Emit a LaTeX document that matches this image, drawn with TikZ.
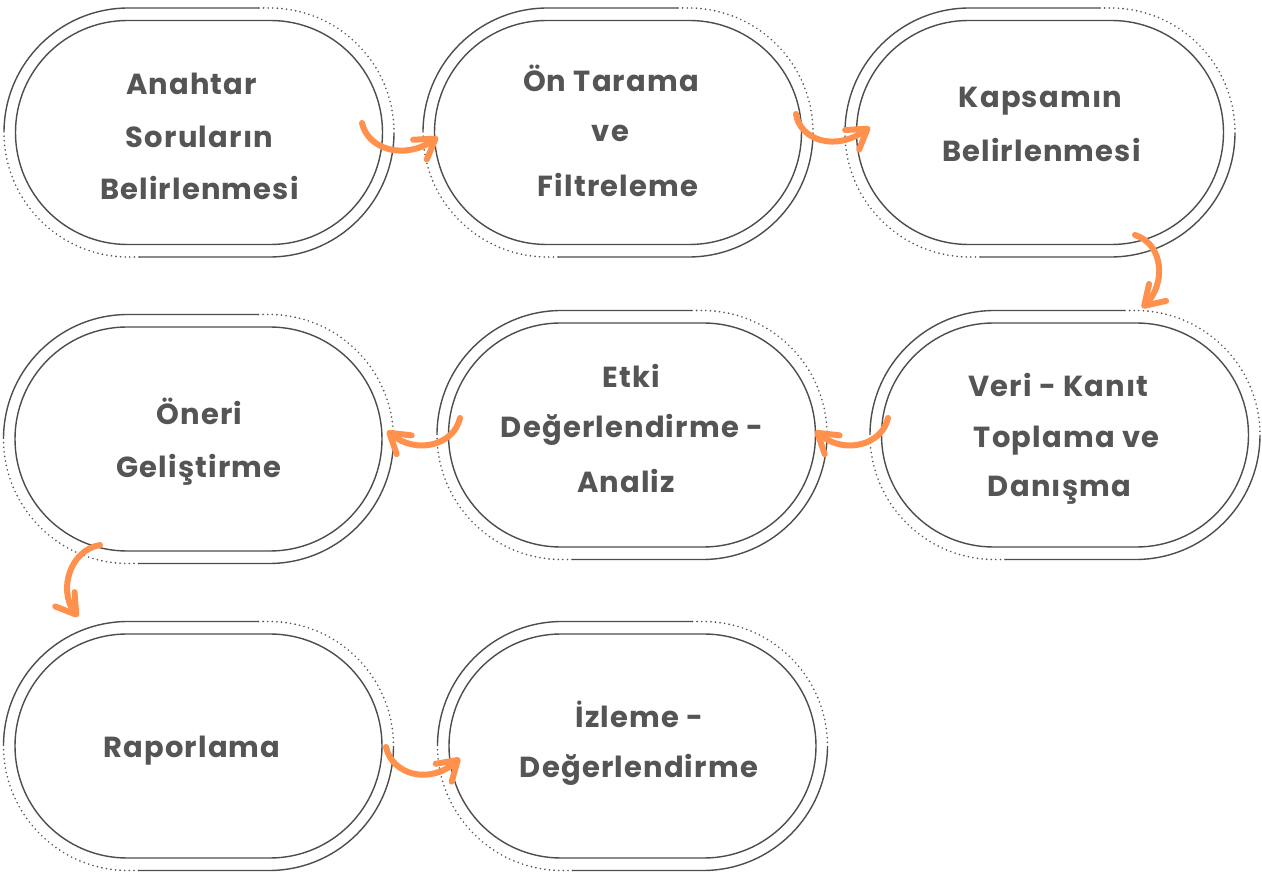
\documentclass[tikz,border=0pt]{standalone}
\usepackage{fontspec}
\newfontfamily\handfont{Poppins}[LetterSpace=4]
\usetikzlibrary{shapes.misc,arrows.meta}
\definecolor{linegray}{HTML}{4D4D4D}
\definecolor{dotgray}{HTML}{555555}
\definecolor{txtgray}{HTML}{555555}
\definecolor{arrorange}{HTML}{FF914D}
\tikzset{
 stadium/.style={draw=linegray, line width=1.4pt, rounded rectangle, minimum width=367pt, minimum height=224pt, inner sep=0pt},
 ring/.style={draw=linegray, line width=1.4pt},
 ringdot/.style={draw=dotgray, line width=1.8pt, line cap=round, dash pattern=on 0pt off 4.6pt},
 lbl/.style={anchor=base, inner sep=0pt, font=\handfont\bfseries\fontsize{29}{31}\selectfont, text=txtgray},
 flow/.style={draw=arrorange, line width=6pt, line cap=round, -{Straight Barb[length=19pt,width=24pt,line width=6pt,round]}},
}
\newcommand\outring[1]{%
 \begin{scope}[shift={(#1.center)}]
  \draw[ring] (-195,0) arc[start angle=180,end angle=90,radius=124.5pt] -- (60,124.5);
  \draw[ringdot] (60,124.5) -- (70.5,124.5) arc[start angle=90,end angle=0,radius=124.5pt];
  \draw[ring] (195,0) arc[start angle=0,end angle=-90,radius=124.5pt] -- (-60,-124.5);
  \draw[ringdot] (-60,-124.5) -- (-70.5,-124.5) arc[start angle=270,end angle=180,radius=124.5pt];
 \end{scope}}
\begin{document}
\begin{tikzpicture}[x=1pt,y=1pt]
\fill[white] (0,0) rectangle (1262,871);
\useasboundingbox (0,0) rectangle (1262,871);
% stages
\node[stadium] (s1) at (199,738.5) {};
\node[stadium] (s2) at (618,738.5) {};
\node[stadium] (s3) at (1040,738.5) {};
\node[stadium] (s4) at (1065,436) {};
\node[stadium] (s5) at (632,436) {};
\node[stadium] (s6) at (198.5,432) {};
\node[stadium] (s7) at (198.5,125) {};
\node[stadium] (s8) at (632.5,125) {};
\outring{s1}\outring{s2}\outring{s3}\outring{s4}
\outring{s5}\outring{s6}\outring{s7}\outring{s8}
% labels
\node[lbl] (t1a) at (191.5,776) {Anahtar};
\node[lbl] (t1b) at (199.5,723) {Soruların};
\node[lbl] (t1c) at (199.5,671) {Belirlenmesi};
\node[lbl] (t2a) at (611,779) {Ön Tarama};
\node[lbl] (t2b) at (610.5,729) {ve};
\node[lbl] (t2c) at (618,674) {Filtreleme};
\node[lbl] (t3a) at (1040.5,763) {Kapsamın};
\node[lbl] (t3b) at (1041.5,709) {Belirlenmesi};
\node[lbl] (t4a) at (1058.5,474) {Veri - Kanıt};
\node[lbl] (t4b) at (1066.5,423) {Toplama ve};
\node[lbl] (t4c) at (1059.5,374) {Danışma};
\node[lbl] (t5a) at (631.5,483) {Etki};
\node[lbl] (t5b) at (632,433) {Değerlendirme -};
\node[lbl] (t5c) at (626,378) {Analiz};
\node[lbl] (t6a) at (199.5,446) {Öneri};
\node[lbl] (t6b) at (199,393) {Geliştirme};
\node[lbl] (t7a) at (192,113) {Raporlama};
\node[lbl] (t8a) at (639.5,143) {İzleme -};
\node[lbl] (t8b) at (639,93) {Değerlendirme};
% connectors
\coordinate (a1s) at (362,748); \coordinate (a1e) at (438,734);
\coordinate (a2s) at (796,757); \coordinate (a2e) at (870,744);
\coordinate (a3s) at (1135,636); \coordinate (a3e) at (1142,563);
\coordinate (a4s) at (888,453); \coordinate (a4e) at (815,440);
\coordinate (a5s) at (460,453); \coordinate (a5e) at (387,440);
\coordinate (a6s) at (100,326); \coordinate (a6e) at (78,254);
\coordinate (a7s) at (386,124); \coordinate (a7e) at (460,113);
\draw[flow] (a1s) .. controls (368,721) and (405,711) .. (a1e);
\draw[flow] (a2s) .. controls (800,731) and (835,719) .. (a2e);
\draw[flow] (a3s) .. controls (1165,626) and (1165,586) .. (a3e);
\draw[flow] (a4s) .. controls (882,426) and (845,416) .. (a4e);
\draw[flow] (a5s) .. controls (454,426) and (417,416) .. (a5e);
\draw[flow] (a6s) .. controls (70,321) and (58,281) .. (a6e);
\draw[flow] (a7s) .. controls (392,96) and (430,86) .. (a7e);
\end{tikzpicture}
\end{document}
